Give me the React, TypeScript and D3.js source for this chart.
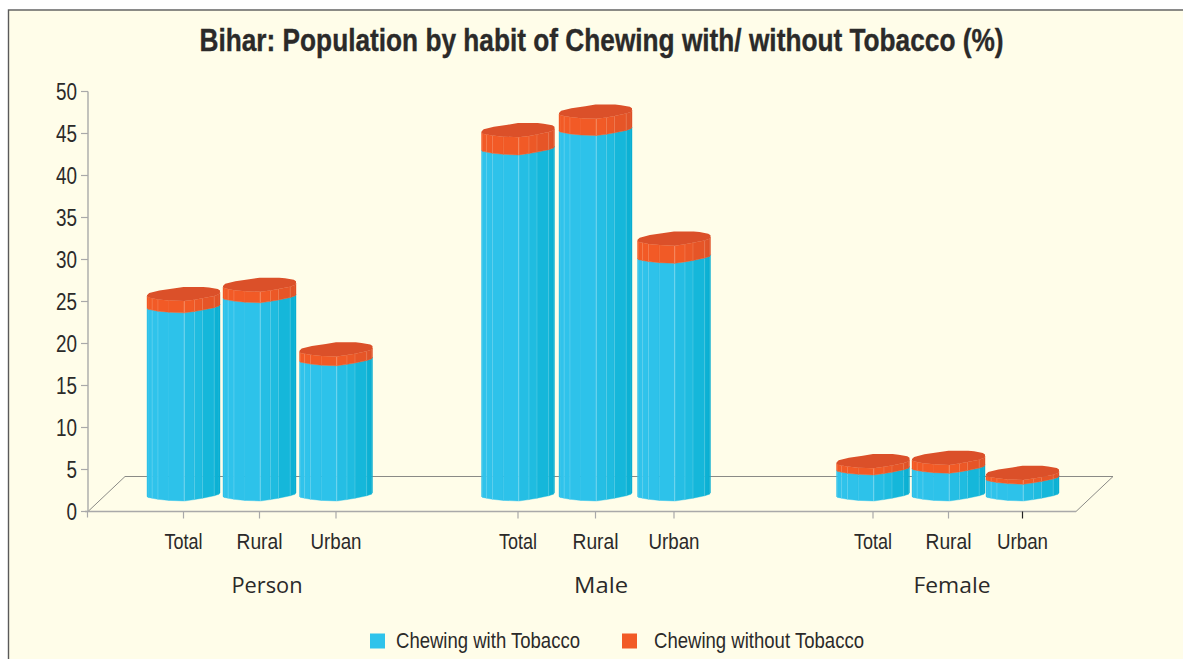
import React from "react";
import * as d3 from "d3";

// ---- data ----
const groups = ["Person", "Male", "Female"];
const areas = ["Total", "Rural", "Urban"];
const withTobacco = [22.4, 23.6, 16.1, 41.2, 43.5, 28.3, 3.1, 3.3, 2.0];
const withoutTobacco = [1.4, 1.3, 1.1, 2.1, 2.0, 2.1, 0.8, 1.0, 0.5];
const seriesNames = ["Chewing with Tobacco", "Chewing without Tobacco"];
const yTicks = [0, 5, 10, 15, 20, 25, 30, 35, 40, 45, 50];

// ---- layout ----
const W = 1183, H = 659;
const slotCentres = [183.5, 259.5, 336, 518, 595.5, 674, 873, 948.5, 1022.5];
const groupCentres = [267, 601, 952];
const axisX = 88, floorFront = 511.5, floorDepthX = 37, floorDepthY = 35, floorRight = 1076;
const barW = 73, barLift = 10.5;
const y = d3.scaleLinear().domain([0, 50]).range([511.5, 91.5]);

// horizontal fraction / vertical lift of the rounded section outline
const front: [number, number][] = [[0, 4.8], [0.015, 3.6], [0.07, 2.8], [0.15, 1.7], [0.3, 0.6], [0.51, 0], [0.65, 1.4], [0.76, 2.8], [0.92, 5.2], [0.985, 6.8], [1, 8.5]];
const back: [number, number][] = [[1, 10.5], [0.97, 12], [0.85, 13.6], [0.77, 14.2], [0.5, 14.2], [0.36, 12.6], [0.17, 10.6], [0.03, 8], [0, 5.8]];
const brightEdges = [0.07, 0.15, 0.51, 0.65, 0.76, 0.92];

const blueShade = d3.scaleLinear<string>().domain([0, 0.4, 0.75, 1]).range(["#30C3EB", "#2DC2EA", "#1DBBDF", "#08AFD2"]);
const orangeShade = d3.scaleLinear<string>().domain([0, 0.6, 1]).range(["#F25A26", "#F15A26", "#DE5228"]);
const capColour = "#DB5029";
const legendBlue = "#2FC3EB", legendOrange = "#F25A26";
const bg = "#FFFDE9";
const axisColour = "#A9A9A9", floorColour = "#8A8A86", ink = "#2B2A29";
const narrow = "'Liberation Sans', Arial, sans-serif";
const humanist = "'Open Sans', 'Noto Sans', sans-serif";
const tickWidths: Record<string, number> = { Total: 38, Rural: 46, Urban: 51 };
const groupWidths: Record<string, number> = { Person: 71, Male: 54, Female: 77 };

const polyLine = d3.line<[number, number]>().x(d => d[0]).y(d => d[1]);

function Segment({ cx, v0, v1, shade, lines }: { cx: number; v0: number; v1: number; shade: (t: number) => string; lines: string }) {
  const px = (t: number) => cx - barW / 2 + t * barW;
  const y0 = y(v0) - barLift, y1 = y(v1) - barLift;
  const strips = d3.pairs(front).map(([a, b], i) => {
    const area = d3.area<[number, number]>().x(d => px(d[0])).y0(d => y0 - d[1]).y1(d => y1 - d[1]);
    return <path key={i} d={area([a, b]) || ""} fill={shade((a[0] + b[0]) / 2)} stroke={shade((a[0] + b[0]) / 2)} strokeWidth={0.4} />;
  });
  const ridges = brightEdges.map((t, i) => {
    const lift = d3.scaleLinear().domain(front.map(d => d[0])).range(front.map(d => d[1]))(t);
    return <line key={i} x1={px(t)} x2={px(t)} y1={y0 - lift} y2={y1 - lift} stroke={lines} strokeOpacity={t === 0.51 ? 0.6 : 0.3} strokeWidth={0.8} />;
  });
  return <g>{strips}{ridges}</g>;
}

export default function App() {
  const bars = withTobacco.map((b, i) => ({ b, o: withoutTobacco[i], cx: slotCentres[i] }));
  const px = (cx: number, t: number) => cx - barW / 2 + t * barW;
  return (
    <svg width={W} height={H} viewBox={`0 0 ${W} ${H}`} style={{ position: "absolute", left: 0, top: 0, background: "#ffffff" }}>
      <rect x={8.5} y={10} width={W + 20} height={H + 20} fill={bg} stroke="#5A5A5A" strokeWidth={1.4} />
      <text x={601.5} y={51} textAnchor="middle" fontFamily={narrow} fontWeight={700} fontSize={30.5} fill={ink} stroke={ink} strokeWidth={0.35} textLength={804} lengthAdjust="spacingAndGlyphs">
        Bihar: Population by habit of Chewing with/ without Tobacco (%)
      </text>

      {/* floor */}
      <path d={polyLine([[axisX, floorFront], [axisX + floorDepthX, floorFront - floorDepthY], [floorRight + floorDepthX, floorFront - floorDepthY], [floorRight, floorFront]]) || ""} fill="none" stroke={floorColour} strokeWidth={1} />

      {/* y axis */}
      <line x1={axisX} x2={axisX} y1={y(50)} y2={y(0)} stroke={axisColour} strokeWidth={1.4} />
      {yTicks.map(t => (
        <g key={t}>
          <line x1={axisX - 7} x2={axisX} y1={y(t)} y2={y(t)} stroke={axisColour} strokeWidth={1.2} />
          <text x={77} y={y(t) + 8.5} textAnchor="end" fontFamily={narrow} fontSize={23} fill={ink} textLength={t < 10 ? 10.5 : 21} lengthAdjust="spacingAndGlyphs">{t}</text>
        </g>
      ))}

      {/* x axis */}
      <line x1={axisX - 3} x2={floorRight} y1={floorFront} y2={floorFront} stroke={axisColour} strokeWidth={1.4} />
      <line x1={axisX - 0.5} x2={axisX - 0.5} y1={floorFront} y2={floorFront + 6} stroke={axisColour} strokeWidth={1.2} />
      {slotCentres.map((c, i) => {
        const label = areas[i % 3];
        return (
          <g key={i}>
            <line x1={c} x2={c} y1={floorFront} y2={floorFront + 7} stroke={i === 8 ? "#222" : axisColour} strokeWidth={1.2} />
            <text x={c} y={548.5} textAnchor="middle" fontFamily={narrow} fontSize={22} fill={ink} textLength={tickWidths[label]} lengthAdjust="spacingAndGlyphs">{label}</text>
          </g>
        );
      })}
      {groups.map((g, i) => (
        <text key={g} x={groupCentres[i]} y={593} textAnchor="middle" fontFamily={humanist} fontSize={22} fill={ink} textLength={groupWidths[g]} lengthAdjust="spacingAndGlyphs">{g}</text>
      ))}

      {/* bars */}
      {bars.map((d, i) => {
        const total = d.b + d.o;
        const topY = y(total) - barLift;
        const cap = polyLine([...front, ...back].map(([t, l]) => [px(d.cx, t), topY - l] as [number, number])) + "Z";
        return (
          <g key={i}>
            <Segment cx={d.cx} v0={0} v1={d.b} shade={blueShade} lines="#BFEFFA" />
            <Segment cx={d.cx} v0={d.b} v1={total} shade={orangeShade} lines="#F9B79C" />
            <path d={cap} fill={capColour} />
          </g>
        );
      })}

      {/* legend */}
      <rect x={370} y={633.5} width={15} height={15} fill={legendBlue} />
      <text x={396} y={648} fontFamily={narrow} fontSize={22} fill={ink} textLength={184} lengthAdjust="spacingAndGlyphs">{seriesNames[0]}</text>
      <rect x={622} y={633.5} width={15} height={15} fill={legendOrange} />
      <text x={654} y={648} fontFamily={narrow} fontSize={22} fill={ink} textLength={210} lengthAdjust="spacingAndGlyphs">{seriesNames[1]}</text>
    </svg>
  );
}
